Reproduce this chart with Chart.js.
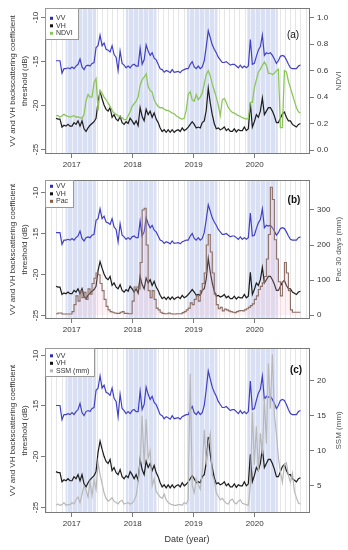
<!DOCTYPE html>
<html>
<head>
<meta charset="utf-8">
<script src="https://cdn.jsdelivr.net/npm/chart.js@4.4.0/dist/chart.umd.min.js"></script>
<style>
  body { margin: 0; background: #fff; width: 348px; height: 550px; overflow: hidden; }
  canvas { display: block; }
</style>
</head>
<body>
<canvas id="chartA" width="348" height="172"></canvas>
<canvas id="chartB" width="348" height="168"></canvas>
<canvas id="chartC" width="348" height="210"></canvas>
<script>
// Sentinel-1 backscatter (VV, VH) compared with NDVI, 30 day rainfall and soil moisture

const startYear = 2016.742;      // first acquisition (decimal year)
const revisitDays = 12;
const yearTicks = [2017, 2018, 2019, 2020];
const dbTicks = [-10, -15, -20, -25];
const ndviTicks = [0, 0.2, 0.4, 0.6, 0.8, 1.0];
const pacTicks = [0, 100, 200, 300];
const ssmTicks = [5, 10, 15, 20];
// rainy season shading (decimal years)
const bandStart = [2016.90, 2017.89, 2018.89, 2019.88];
const bandEnd = [2017.40, 2018.39, 2019.39, 2020.38];

const vv = [
  -15.0, -15.0, -15.0, -16.4, -15.9, -15.9, -15.8, -15.9, -15.7, -15.9,
  -15.6, -15.4, -14.8, -15.7, -16.0, -15.6, -15.5, -15.6, -15.3, -15.2,
  -13.5, -13.3, -12.1, -13.3, -13.0, -13.7, -13.8, -14.0, -13.3, -14.3,
  -14.6, -16.1, -13.9, -15.3, -15.5, -15.8, -15.6, -15.8, -15.5, -15.4,
  -15.6, -15.6, -13.6, -15.4, -14.9, -13.2, -13.9, -14.4, -14.1, -14.7,
  -14.9, -15.4, -15.9, -16.0, -16.3, -16.1, -16.2, -16.35, -16.0, -16.3,
  -16.25, -16.2, -16.35, -16.1, -16.0, -15.9, -15.9, -15.4, -15.1, -15.7,
  -15.9, -15.6, -15.9, -15.7, -15.0, -13.4, -11.6, -12.4, -13.2, -13.7,
  -14.1, -14.6, -14.9, -15.2, -15.2, -15.1, -15.3, -15.5, -15.4, -15.4,
  -15.6, -15.8, -15.5, -15.8, -15.6, -15.8, -15.6, -12.6, -15.4, -15.3,
  -14.5, -13.8, -13.4, -12.1, -14.4, -14.1, -14.2, -14.1, -14.4, -14.8,
  -15.3, -15.0, -14.5, -14.4, -14.5, -14.9, -15.4, -15.8, -15.9, -15.9,
  -15.9, -15.6, -15.5
];
const vh = [
  -21.5, -21.6, -21.6, -22.5, -22.3, -22.4, -22.2, -22.4, -22.4, -22.0,
  -22.2, -21.8, -22.4, -21.8, -22.7, -23.0, -22.6, -22.3, -22.1, -21.9,
  -21.5, -19.6, -18.5, -19.3, -20.0, -20.5, -20.7, -20.3, -21.4, -21.1,
  -21.6, -21.8, -21.3, -22.0, -22.2, -21.9, -22.1, -21.5, -21.8, -22.2,
  -21.8, -22.35, -20.3, -21.3, -21.8, -20.5, -21.1, -20.7, -21.4, -20.9,
  -21.6, -22.0, -22.6, -23.0, -22.8, -23.1, -22.8, -23.1, -22.8, -23.1,
  -22.9, -22.8, -23.0, -22.6, -22.9, -22.75, -22.5, -22.2, -21.9, -22.2,
  -22.6, -22.5, -22.6, -22.0, -21.8, -20.6, -18.1, -19.8, -21.1, -22.1,
  -22.7, -22.6, -22.8, -22.7, -22.5, -22.9, -22.7, -23.0, -23.0, -22.7,
  -23.05, -22.8, -22.9, -22.9, -22.5, -22.9, -22.7, -19.8, -22.5, -21.9,
  -21.1, -21.4, -20.7, -19.2, -21.1, -20.7, -20.3, -20.3, -20.7, -21.25,
  -22.0, -22.0, -21.5, -21.0, -20.8, -21.4, -21.8, -21.8, -22.2, -22.35,
  -22.5, -22.2, -22.1
];
const ndvi = [
  0.26, 0.26, 0.25, 0.26, 0.27, 0.26, 0.255, 0.25, 0.255, 0.26,
  0.25, 0.25, 0.245, 0.24, 0.27, 0.37, 0.42, 0.40, 0.40, 0.51,
  0.54, 0.30, 0.45, 0.43, 0.40, 0.38, 0.355, 0.33, 0.30, 0.28,
  0.27, 0.26, 0.25, 0.245, 0.23, 0.23, 0.26, 0.29, 0.33, 0.35,
  0.37, 0.40, 0.49, 0.53, 0.55, 0.575, 0.48, 0.45, 0.44, 0.38,
  0.35, 0.33, 0.32, 0.32, 0.31, 0.30, 0.30, 0.29, 0.28, 0.275,
  0.26, 0.25, 0.24, 0.235, 0.24, 0.30, 0.42, 0.44, 0.38, 0.37,
  0.42, 0.38, 0.40, 0.43, 0.50, 0.57, 0.60, 0.56, 0.50, 0.45,
  0.40, 0.34, 0.26, 0.38, 0.39, 0.36, 0.32, 0.30, 0.285, 0.28,
  0.27, 0.26, 0.255, 0.245, 0.24, 0.235, 0.24, 0.36, 0.36, 0.47,
  0.53, 0.59, 0.61, 0.64, 0.665, 0.64, 0.58, 0.58, 0.57, 0.58,
  0.60, 0.61, 0.17, 0.17, 0.60, 0.59, 0.52, 0.47, 0.42, 0.37,
  0.32, 0.29, 0.28
];
const pac = [
  4, 6, 6, 3, 3, 3, 3, 3, 10, 30,
  55, 40, 70, 50, 65, 45, 75, 60, 90, 105,
  120, 115, 90, 70, 45, 25, 15, 10, 8, 6,
  5, 5, 8, 10, 5, 5, 4, 4, 40, 80,
  80, 75, 150, 300, 305, 200, 70, 50, 70, 45,
  20, 15, 8, 5, 4, 4, 6, 4, 3, 3,
  4, 4, 4, 7, 10, 15, 20, 35, 30, 45,
  55, 40, 70, 90, 120, 200, 230, 180, 120, 60,
  30, 18, 22, 12, 17, 15, 12, 10, 8, 7,
  10, 12, 13, 12, 15, 18, 22, 27, 32, 45,
  55, 73, 82, 92, 110, 160, 230, 365, 330, 215,
  160, 95, 55, 95, 150, 120, 70, 15, 8, 8,
  8, 8, 8
];
const ssm = [
  2.2, 2.4, 2.2, 2.3, 2.6, 2.2, 2.3, 2.3, 2.6, 2.4,
  3.0, 3.4, 2.6, 3.8, 5.0, 4.4, 3.4, 5.5, 3.6, 5.8,
  4.5, 8.3, 6.6, 5.3, 4.0, 3.2, 2.8, 3.0, 3.3, 2.8,
  2.6, 2.4, 2.8, 2.9, 2.4, 2.5, 2.6, 2.4, 2.5, 2.9,
  3.6, 5.5, 8.5, 15.0, 8.0, 14.5, 9.0, 10.0, 5.0, 6.0,
  4.2, 3.8, 3.4, 3.2, 3.8, 3.0, 2.6, 2.4, 2.3, 2.2,
  2.2, 2.3, 2.3, 2.2, 2.6, 2.4, 3.0, 21.0, 5.0, 4.0,
  6.0, 5.2, 4.5, 7.0, 13.0, 8.0, 11.0, 12.5, 6.5, 5.8,
  4.0, 3.5, 3.0, 3.2, 2.8, 2.5, 2.4, 2.9, 3.1, 2.6,
  2.4, 2.8, 3.0, 2.5, 2.4, 2.3, 2.2, 5.0, 15.5, 8.0,
  13.5, 7.0, 12.5, 9.5, 17.5, 11.0, 22.5, 16.0, 23.8, 15.0,
  12.5, 9.0, 7.0, 5.5, 8.0, 8.3, 6.5, 5.5, 6.8, 4.2,
  3.3, 2.5, 2.4
];

const leftTitle = ['VV and VH backscattering coefficient', 'threshold (dB)'];
const FONT = "'Liberation Sans', Arial, sans-serif";
const AXIS = '#7a7a7a';
const TXT = '#333';

const dates = vv.map((v, i) => startYear + i * revisitDays / 365.25);
const pts = vals => vals.map((v, i) => ({ x: dates[i], y: v }));

Chart.defaults.font.family = FONT;
Chart.defaults.font.size = 8;

function makePanel(id, p) {
  const decor = {
    id: 'decor',
    beforeDatasetsDraw(chart) {
      const ctx = chart.ctx, a = chart.chartArea, x = chart.scales.x;
      ctx.save();
      ctx.beginPath();
      ctx.rect(a.left, a.top, a.right - a.left, a.bottom - a.top);
      ctx.clip();
      ctx.fillStyle = '#dae0f3';
      bandStart.forEach((s, k) => {
        const x0 = x.getPixelForValue(s), x1 = x.getPixelForValue(bandEnd[k]);
        ctx.fillRect(x0, a.top, x1 - x0, a.bottom - a.top);
      });
      // monthly guide lines
      ctx.lineWidth = 1;
      for (let yr = 2016; yr <= 2020; yr++) {
        for (let m = 0; m < 12; m++) {
          const t = yr + m / 12;
          const px = Math.round(x.getPixelForValue(t)) + 0.5;
          if (px <= a.left + 1 || px >= a.right - 1) continue;
          const inBand = bandStart.some((s, k) => t > s && t < bandEnd[k]);
          ctx.strokeStyle = inBand ? '#f0f2fb' : '#e6e6e6';
          ctx.beginPath();
          ctx.moveTo(px, a.top);
          ctx.lineTo(px, a.bottom);
          ctx.stroke();
        }
      }
      ctx.restore();
    },
    afterDraw(chart) {
      const ctx = chart.ctx, a = chart.chartArea, y = chart.scales.y;
      ctx.save();
      ctx.strokeStyle = AXIS;
      ctx.lineWidth = 1;
      ctx.strokeRect(Math.round(a.left) + 0.5, Math.round(a.top) + 0.5,
        Math.round(a.right - a.left) - 1, Math.round(a.bottom - a.top) - 1);

      // left axis, labels turned like in R
      ctx.fillStyle = TXT;
      ctx.font = '8px ' + FONT;
      ctx.textAlign = 'center';
      ctx.textBaseline = 'middle';
      dbTicks.forEach(v => {
        const py = Math.round(y.getPixelForValue(v)) + 0.5;
        ctx.beginPath();
        ctx.moveTo(a.left - 4, py);
        ctx.lineTo(a.left, py);
        ctx.stroke();
        ctx.save();
        ctx.translate(36, py);
        ctx.rotate(-Math.PI / 2);
        ctx.fillText(String(v), 0, 0);
        ctx.restore();
      });

      const midY = (a.top + a.bottom) / 2;
      ctx.save();
      ctx.translate(13, midY);
      ctx.rotate(-Math.PI / 2);
      ctx.fillText(leftTitle[0], 0, 0);
      ctx.fillText(leftTitle[1], 0, 12);
      ctx.restore();

      ctx.save();
      ctx.fillStyle = '#555';
      ctx.translate(339, midY);
      ctx.rotate(-Math.PI / 2);
      ctx.fillText(p.rightTitle, 0, 0);
      ctx.restore();

      if (p.xTitle) {
        ctx.font = '9px ' + FONT;
        ctx.fillText(p.xTitle, 187, a.bottom + 27);
      }

      ctx.font = (p.labelBold ? 'bold ' : '') + '10px ' + FONT;
      ctx.fillStyle = '#111';
      ctx.fillText(p.panelLabel, p.labelX, a.top + p.labelDy);

      // legend box in the top left corner
      ctx.font = '7px ' + FONT;
      ctx.textAlign = 'left';
      let w = 0;
      p.legend.forEach(it => { w = Math.max(w, ctx.measureText(it.text).width); });
      const bx = Math.round(a.left) + 0.5, by = Math.round(a.top) + 0.5;
      const bw = Math.round(w + 16), bh = Math.round(p.legendFirst + 2 * 7.5 + 5);
      ctx.fillStyle = '#fff';
      ctx.fillRect(bx, by, bw, bh);
      ctx.strokeStyle = '#999';
      ctx.strokeRect(bx, by, bw, bh);
      p.legend.forEach((it, k) => {
        const ry = a.top + p.legendFirst + k * 7.5;
        ctx.fillStyle = it.color;
        ctx.fillRect(a.left + 5, ry - 1.5, 3, 3);
        ctx.fillStyle = TXT;
        ctx.fillText(it.text, a.left + 11, ry);
      });
      ctx.restore();
    }
  };

  const third = Object.assign({
    yAxisID: 'y2',
    pointRadius: 0,
    tension: 0,
    fill: false
  }, p.third);

  return new Chart(document.getElementById(id), {
    type: 'line',
    data: {
      datasets: [
        third,
        { label: 'VH', data: pts(vh), yAxisID: 'y', borderColor: '#1c1c1c', borderWidth: 1.2, pointRadius: 0, tension: 0 },
        { label: 'VV', data: pts(vv), yAxisID: 'y', borderColor: '#4141c6', borderWidth: 1.2, pointRadius: 0, tension: 0 }
      ]
    },
    options: {
      responsive: false,
      animation: false,
      layout: { padding: { top: p.padTop, left: 0, right: 0, bottom: 0 } },
      plugins: { legend: { display: false }, tooltip: { enabled: false } },
      scales: {
        x: {
          type: 'linear', min: 2016.562, max: 2020.907,
          afterBuildTicks: s => { s.ticks = yearTicks.map(v => ({ value: v })); },
          afterFit: s => { s.height = p.xHeight; },
          ticks: { callback: v => String(v), color: TXT, font: { size: 8 }, maxRotation: 0, autoSkip: false, padding: 2 },
          grid: { drawOnChartArea: false, drawTicks: true, tickLength: 4, color: AXIS },
          border: { display: false }
        },
        y: {
          position: 'left', min: p.yMin, max: p.yMax,
          afterFit: s => { s.width = 45; },
          ticks: { display: false },
          grid: { display: false },
          border: { display: false }
        },
        y2: {
          position: 'right', min: p.y2Min, max: p.y2Max,
          afterBuildTicks: s => { s.ticks = p.y2Ticks.map(v => ({ value: v })); },
          afterFit: s => { s.width = 38; },
          ticks: { callback: p.y2Fmt, color: TXT, font: { size: 8 }, padding: 3 },
          grid: { drawOnChartArea: false, drawTicks: true, tickLength: 4, color: AXIS },
          border: { display: false }
        }
      }
    },
    plugins: [decor]
  });
}

makePanel('chartA', {
  padTop: 4, xHeight: 18,
  yMin: -25.55, yMax: -9.01, y2Min: -0.029, y2Max: 1.074,
  y2Ticks: ndviTicks, y2Fmt: v => v.toFixed(1), rightTitle: 'NDVI',
  panelLabel: '(a)', labelBold: false, labelX: 293, labelDy: 27,
  legendFirst: 10.5,
  legend: [{ text: 'VV', color: '#2c2cb0' }, { text: 'VH', color: '#111' }, { text: 'NDVI', color: '#8cc65a' }],
  third: { label: 'NDVI', data: pts(ndvi), borderColor: '#8cc65a', borderWidth: 1.3 }
});

makePanel('chartB', {
  padTop: 4, xHeight: 21,
  yMin: -25.47, yMax: -8.58, y2Min: -11.1, y2Max: 386.1,
  y2Ticks: pacTicks, y2Fmt: v => String(v), rightTitle: 'Pac 30 days (mm)',
  panelLabel: '(b)', labelBold: true, labelX: 294, labelDy: 20,
  legendFirst: 6.5,
  legend: [{ text: 'VV', color: '#2c2cb0' }, { text: 'VH', color: '#111' }, { text: 'Pac', color: '#8b5a3c' }],
  third: { label: 'Pac', data: pts(pac), borderColor: '#8c6e64', borderWidth: 1.1, stepped: true,
           fill: 'origin', backgroundColor: 'rgba(250,190,212,0.2)' }
});

makePanel('chartC', {
  padTop: 3, xHeight: 37,
  yMin: -25.57, yMax: -9.33, y2Min: 1.11, y2Max: 24.72,
  y2Ticks: ssmTicks, y2Fmt: v => String(v), rightTitle: 'SSM (mm)',
  panelLabel: '(c)', labelBold: true, labelX: 296, labelDy: 22,
  legendFirst: 8, xTitle: 'Date (year)',
  legend: [{ text: 'VV', color: '#2c2cb0' }, { text: 'VH', color: '#111' }, { text: 'SSM (mm)', color: '#b5b5b5' }],
  third: { label: 'SSM (mm)', data: pts(ssm), borderColor: '#b8b8b8', borderWidth: 1.2 }
});
</script>
</body>
</html>
